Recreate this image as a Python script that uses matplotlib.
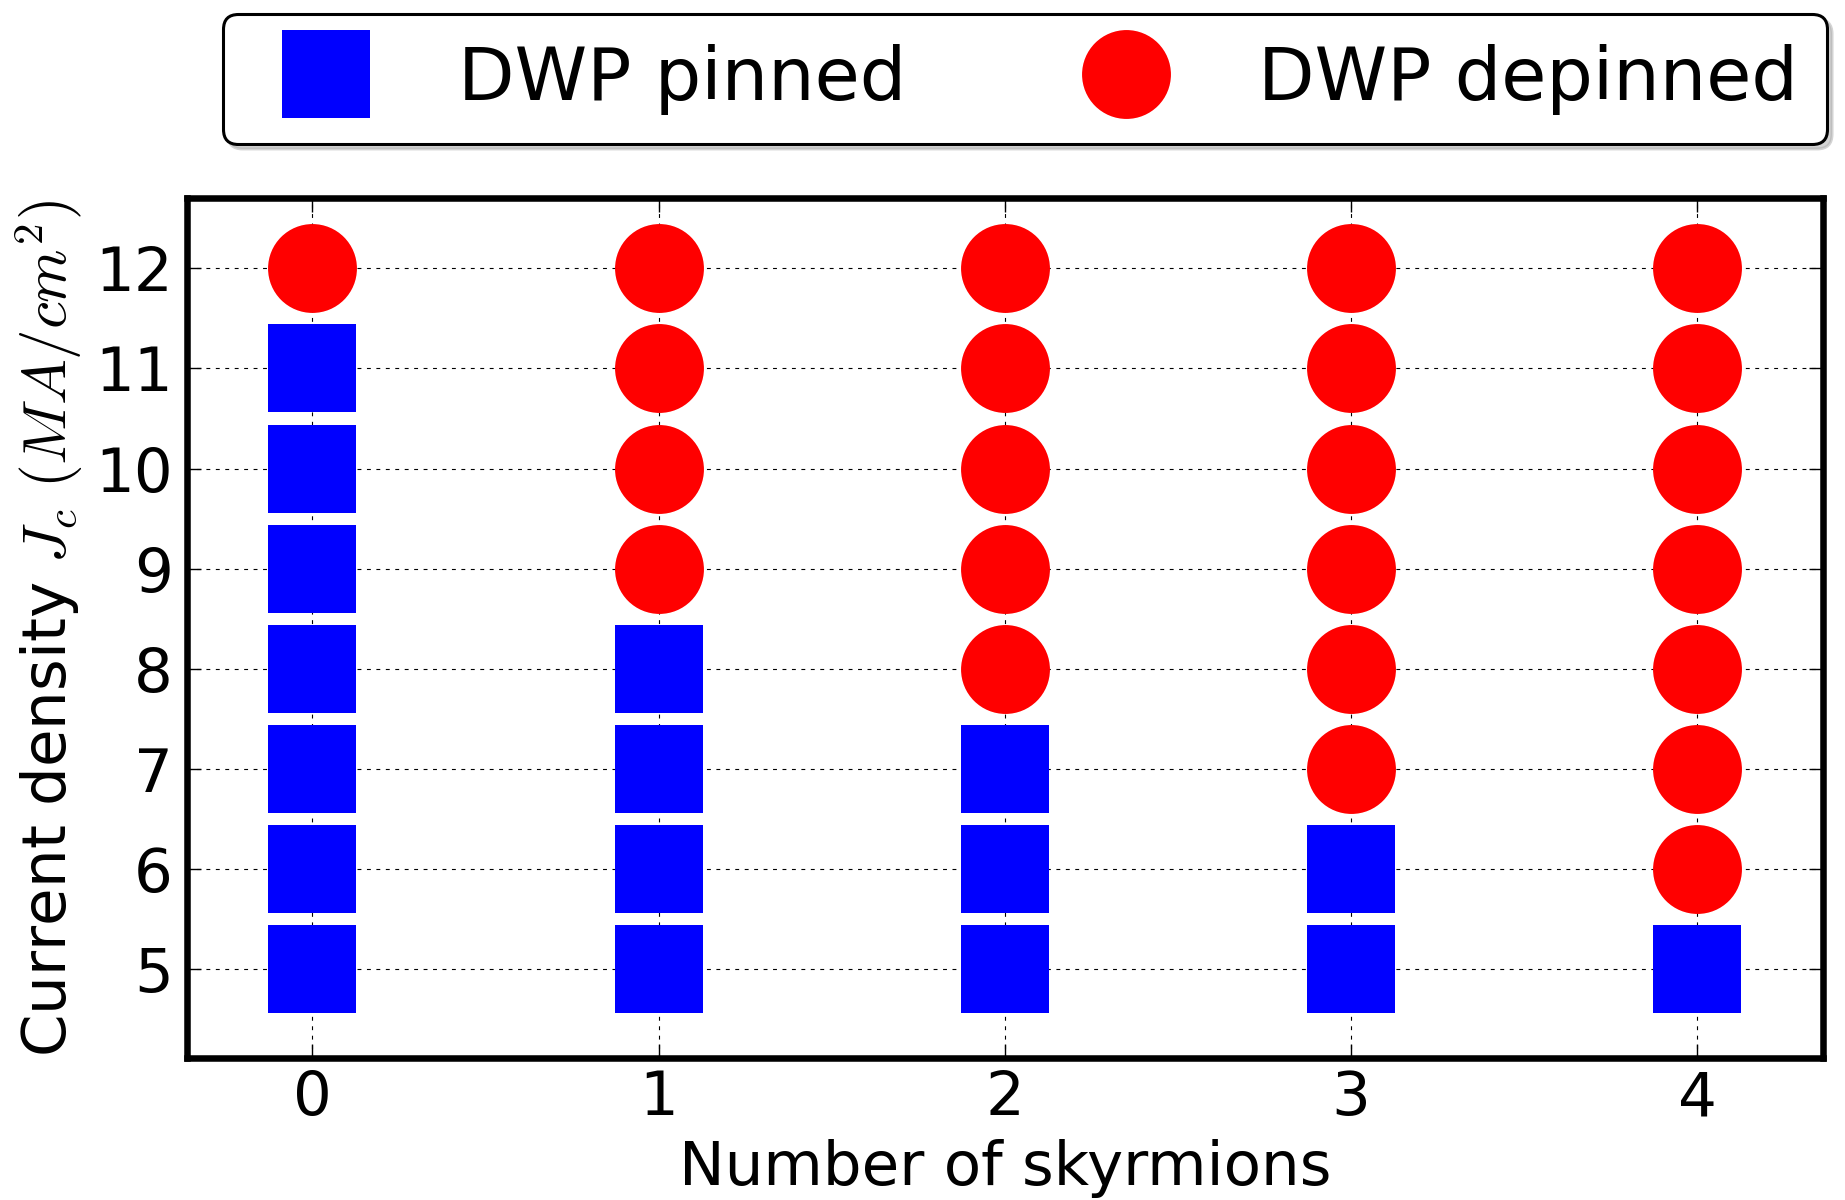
## DWP pinning diagram: current density vs number of skyrmions
import numpy as np
import matplotlib
matplotlib.use('Agg')
import matplotlib.pyplot as plt

## data
pinned_x = [0, 0, 0, 0, 0, 0, 0,
            1, 1, 1, 1,
            2, 2, 2,
            3, 3,
            4]
pinned_y = [5, 6, 7, 8, 9, 10, 11,
            5, 6, 7, 8,
            5, 6, 7,
            5, 6,
            5]
depinned_x = [0,
              1, 1, 1, 1,
              2, 2, 2, 2, 2,
              3, 3, 3, 3, 3, 3,
              4, 4, 4, 4, 4, 4, 4]
depinned_y = [12,
              9, 10, 11, 12,
              8, 9, 10, 11, 12,
              7, 8, 9, 10, 11, 12,
              6, 7, 8, 9, 10, 11, 12]
x_ticks = [0, 1, 2, 3, 4]
y_ticks = [5, 6, 7, 8, 9, 10, 11, 12]

plt.rcParams['font.family'] = 'DejaVu Sans'
plt.rcParams['mathtext.fontset'] = 'cm'

fig = plt.figure(figsize=(18.45, 12), dpi=100)
ax = fig.add_axes([0.1011, 0.1183, 0.8870, 0.7163])

## markers, no edges
ax.plot(pinned_x, pinned_y, linestyle='none', marker='s', markersize=64,
        color='#0000ff', markeredgewidth=0, label='DWP pinned', zorder=3)
ax.plot(depinned_x, depinned_y, linestyle='none', marker='o', markersize=64,
        color='#ff0000', markeredgewidth=0, label='DWP depinned', zorder=3)

ax.set_xlim(-0.363, 4.363)
ax.set_ylim(4.114, 12.697)
ax.set_xticks(x_ticks)
ax.set_yticks(y_ticks)

## grid and ticks in the old classic look
ax.grid(True, color='black', linewidth=0.8, linestyle=(0, (3.5, 5)))
ax.set_axisbelow(True)
ax.tick_params(direction='in', length=10, width=1, top=True, right=True,
               labelsize=44)
ax.tick_params(axis='x', pad=8)
ax.tick_params(axis='y', pad=10)
for sp in ax.spines.values():
    sp.set_linewidth(4.7)

ax.set_xlabel('Number of skyrmions', fontsize=44, labelpad=8)
ax.set_ylabel(r'Current density $J_c\ (MA/cm^2)$', fontsize=44, labelpad=7)

leg = ax.legend(loc='center', bbox_to_anchor=(0.5556, 0.934),
                bbox_transform=fig.transFigure, ncol=2, numpoints=1,
                fontsize=52.8, fancybox=True, framealpha=1,
                shadow={'ox': 3.5, 'oy': -3.5, 'color': '#aaaaaa'},
                handlelength=2.0, handletextpad=0.8, columnspacing=2.0,
                borderpad=0.4)
leg.get_frame().set_edgecolor('black')
leg.get_frame().set_linewidth(2.2)

fig.savefig('out.png', dpi=100, facecolor='white')
